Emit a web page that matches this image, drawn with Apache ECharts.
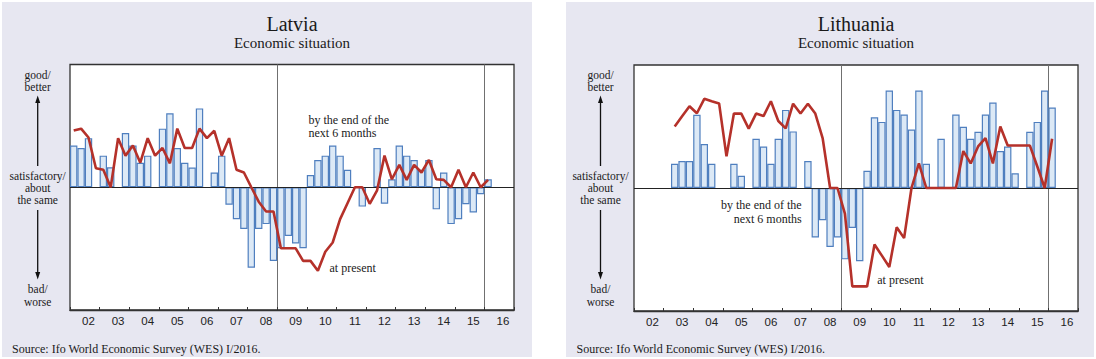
<!DOCTYPE html>
<html>
<head>
<meta charset="utf-8">
<script src="https://cdn.jsdelivr.net/npm/echarts@6/dist/echarts.min.js"></script>
<style>
html,body{margin:0;padding:0;background:#ffffff;}
#chart{width:1096px;height:359px;}
</style>
</head>
<body>
<div id="chart"></div>
<script>
// ---- data ----
const years = ['02','03','04','05','06','07','08','09','10','11','12','13','14','15','16'];
const quarters = ['Q1','Q2','Q3','Q4'];
const dividers = ['09Q1','16Q1'];

// bars: "by the end of the next 6 months" (02Q1 .. 16Q1)
const latviaNext = [1.36,1.28,1.60,null, 1.03,0.65,null,1.77, 1.36,0.80,1.03,null, 1.91,2.41,1.28,0.80,
  0.64,2.57,null,0.48, 1.03,-0.57,-1.04,-1.36, -2.62,-1.36,-1.20,-2.40, -1.99,-1.59,-1.83,-1.99,
  0.40,0.89,1.03,1.36, 1.03,0.57,null,-0.63, null,1.28,-0.54,0.26, 1.36,1.03,0.89,0.57,
  0.89,-0.72,0.48,-1.20, -1.04,-0.55,-0.82,-0.23, 0.26];
// line: "at present"
const latviaPresent = [1.85,1.91,1.62,0.62, 0.57,0,1.60,1.03, 1.36,0.80,1.60,1.03, 1.28,0.78,1.91,1.28,
  1.28,1.91,1.60,1.84, 1.03,1.60,0.57,0.48, 0,-0.47,-0.79,-0.79, -1.99,-1.99,-1.99,-2.40,
  -2.40,-2.72,-2.10,-1.80, -1.04,-0.52,0,0, -0.54,-0.10,1.03,0.26, 0.73,0.24,0.73,0.48,
  0.89,0.26,0.24,0, 0.57,0,0.48,0, 0.24];

const lithuaniaNext = [null,null,null,null, null,0.79,0.88,0.88, 2.38,1.43,0.79,null, null,0.79,0.40,null,
  1.60,1.35,0.79,1.60, 2.54,1.84,null,0.88, -1.61,-1.05,-1.92,-1.61, -2.32,-1.30,-2.38,0.56,
  2.30,2.15,3.17,2.54, 2.39,1.90,3.17,0.79, null,1.60,null,2.39, 1.99,1.60,1.83,2.39,
  2.78,1.20,1.35,0.48, null,1.83,2.15,3.17, 2.62];
const lithuaniaPresent = [null,null,null,null, null,2.00,2.33,2.66, 2.43,2.90,2.82,2.75, 1.03,2.42,2.42,1.93,
  2.42,2.34,2.82,2.18, 1.94,2.74,2.42,2.74, 2.42,1.61,0,0, -0.83,-3.20,-3.20,-3.20,
  -1.84,-2.20,-2.57,-1.28, -1.63,0,0.80,0, 0,0,0,0, 1.20,0.80,1.35,1.62,
  0.80,2.00,1.38,1.38, 1.38,1.38,0.70,0, 1.60];

// ---- build ----
const categories = years.flatMap(y => quarters.map(q => y + q));
const dividerIdx = dividers.map(d => categories.indexOf(d));

const SERIF = "'Liberation Serif', 'Times New Roman', serif";
const SANS = "'Liberation Sans', Arial, sans-serif";
const BAR_FILL = '#dce9f6', BAR_EDGE = '#4f7fbf', LINE_RED = '#b5312a';

const grids = [
  {left: 70, top: 64.5, width: 444, height: 245.5},
  {left: 634, top: 65, width: 444, height: 246}
];

function xAxisFor(g) {
  return {
    type: 'category', gridIndex: g, data: categories, boundaryGap: true,
    axisLine: {onZero: false, lineStyle: {color: '#333', width: 1.3}},
    axisTick: {show: true, inside: true, length: 3, alignWithLabel: false,
      interval: i => i % 4 === 0, lineStyle: {color: '#333', width: 1}},
    axisLabel: {interval: i => i % 4 === 2, formatter: v => v.slice(0, 2),
      fontFamily: SANS, fontSize: 11.5, color: '#222', margin: 5},
    splitLine: {show: true, interval: i => dividerIdx.indexOf(i) >= 0,
      lineStyle: {color: '#707070', width: 1}}
  };
}
function yAxisFor(g) {
  return {type: 'value', gridIndex: g, min: -4, max: 4,
    axisLine: {show: false}, axisTick: {show: false}, axisLabel: {show: false}, splitLine: {show: false}};
}
function barSeries(g, data) {
  return {type: 'bar', xAxisIndex: g, yAxisIndex: g, data: data, barCategoryGap: '0%',
    itemStyle: {color: BAR_FILL, borderColor: BAR_EDGE, borderWidth: 1.2},
    markLine: {silent: true, symbol: ['none', 'none'], label: {show: false},
      lineStyle: {color: '#222', width: 1, type: 'solid'}, data: [{yAxis: 0}]}};
}
function lineSeries(g, data) {
  return {type: 'line', xAxisIndex: g, yAxisIndex: g, data: data, symbol: 'none',
    connectNulls: false, lineStyle: {color: LINE_RED, width: 2.6}, itemStyle: {color: LINE_RED}, z: 5};
}

function txt(text, x, y, size, family, align, lh) {
  return {type: 'text', z: 10, style: {text: text, x: x, y: y, fill: '#1a1a1a',
    font: size + 'px ' + family, fontSize: size, fontFamily: family,
    textAlign: align, align: align, textVerticalAlign: 'middle', verticalAlign: 'middle',
    lineHeight: lh || size}};
}
function scaleLabels(cx) {
  const s = {stroke: '#111', lineWidth: 1.3};
  return [
    txt('good/\nbetter', cx, 81, 11.5, SERIF, 'center', 12),
    txt('satisfactory/\nabout\nthe same', cx, 188, 11.5, SERIF, 'center', 12.3),
    txt('bad/\nworse', cx, 295.5, 11.5, SERIF, 'center', 12.3),
    {type: 'line', z: 10, shape: {x1: cx, y1: 101, x2: cx, y2: 166}, style: s},
    {type: 'polygon', z: 10, shape: {points: [[cx, 95.5], [cx - 2.5, 103], [cx + 2.5, 103]]}, style: {fill: '#111'}},
    {type: 'line', z: 10, shape: {x1: cx, y1: 210, x2: cx, y2: 274}, style: s},
    {type: 'polygon', z: 10, shape: {points: [[cx, 279.5], [cx - 2.5, 272], [cx + 2.5, 272]]}, style: {fill: '#111'}}
  ];
}

const graphics = [
  {type: 'rect', z: -100, shape: {x: 2, y: 2, width: 530, height: 355}, style: {fill: '#e7e7f1'}},
  {type: 'rect', z: -100, shape: {x: 566, y: 2, width: 528, height: 355}, style: {fill: '#e7e7f1'}},
  txt('Latvia', 292, 24.3, 20, SERIF, 'center', 19),
  txt('Economic situation', 292, 42.6, 15, SERIF, 'center', 15),
  txt('Lithuania', 856, 24.3, 20, SERIF, 'center', 19),
  txt('Economic situation', 856, 42.6, 15, SERIF, 'center', 15),
  txt('by the end of the\nnext 6 months', 308.5, 126.4, 12, SERIF, 'left', 12.7),
  txt('at present', 329.5, 267.7, 12, SERIF, 'left'),
  txt('by the end of the\nnext 6 months', 801.7, 212, 12, SERIF, 'right', 14),
  txt('at present', 877.3, 280, 12, SERIF, 'left'),
  txt('Source: Ifo World Economic Survey (WES) I/2016.', 12, 349, 12, SERIF, 'left'),
  txt('Source: Ifo World Economic Survey (WES) I/2016.', 576.5, 349, 12, SERIF, 'left')
].concat(scaleLabels(37.7), scaleLabels(600.5));

const option = {
  animation: false,
  backgroundColor: '#ffffff',
  grid: grids.map(g => Object.assign({show: true, backgroundColor: '#ffffff',
    borderColor: '#333', borderWidth: 1.3, containLabel: false}, g)),
  xAxis: [xAxisFor(0), xAxisFor(1)],
  yAxis: [yAxisFor(0), yAxisFor(1)],
  series: [
    barSeries(0, latviaNext), lineSeries(0, latviaPresent),
    barSeries(1, lithuaniaNext), lineSeries(1, lithuaniaPresent)
  ],
  graphic: {elements: graphics}
};

const chart = echarts.init(document.getElementById('chart'), null, {renderer: 'svg'});
chart.setOption(option);
</script>
</body>
</html>
